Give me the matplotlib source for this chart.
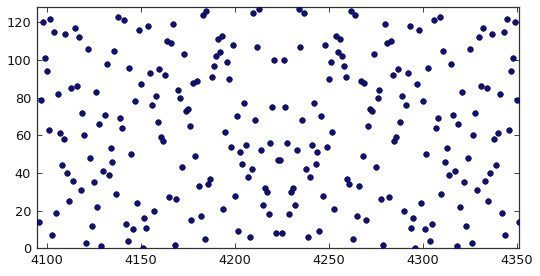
import numpy as np
import matplotlib
matplotlib.use("Agg")
import matplotlib.pyplot as plt

# x runs over consecutive integers; y
x_values = np.arange(4096, 4352)

y_values = [
    # 4096 - 4127
    14, 79, 120, 101, 94, 63, 122, 7, 115, 19, 82, 61, 44, 58, 114, 40,
    25, 85, 36, 117, 86, 112, 31, 72, 60, 3, 106, 48, 12, 35, 83, 22,
    # 4128 - 4159
    66, 1, 41, 71, 98, 39, 53, 46, 105, 29, 123, 69, 64, 121, 13, 4,
    96, 50, 10, 78, 24, 116, 87, 0, 16, 11, 118, 93, 76, 20, 81, 67,
    # 4160 - 4191
    95, 59, 57, 92, 110, 27, 109, 119, 2, 26, 84, 80, 43, 103, 73, 74,
    65, 15, 88, 49, 89, 33, 17, 124, 5, 126, 34, 37, 91, 97, 102, 111,
    # 4192 - 4223
    104, 113, 21, 62, 99, 90, 54, 108, 28, 70, 9, 51, 45, 77, 55, 38,
    6, 42, 125, 68, 107, 127, 52, 23, 32, 30, 18, 56, 75, 100, 8, 47,
    # 4224 - 4255
    47, 8, 100, 75, 56, 18, 30, 32, 23, 52, 127, 107, 68, 125, 42, 6,
    38, 55, 77, 45, 51, 9, 70, 28, 108, 54, 90, 99, 62, 21, 113, 104,
    # 4256 - 4287
    111, 102, 97, 91, 37, 34, 126, 5, 124, 17, 33, 89, 49, 88, 15, 65,
    74, 73, 103, 43, 80, 84, 26, 2, 119, 109, 27, 110, 92, 57, 59, 95,
    # 4288 - 4319
    67, 81, 20, 76, 93, 118, 11, 16, 0, 87, 116, 24, 78, 10, 50, 96,
    4, 13, 121, 64, 69, 123, 29, 105, 46, 53, 39, 98, 71, 41, 1, 66,
    # 4320 - 4351
    22, 83, 35, 12, 48, 106, 3, 60, 72, 31, 112, 86, 117, 36, 85, 25,
    40, 114, 58, 44, 61, 82, 19, 115, 7, 122, 63, 94, 101, 120, 79, 14,
]

x_ticks = [4100, 4150, 4200, 4250, 4300, 4350]
y_ticks = [0, 20, 40, 60, 80, 100, 120]

plt.rcParams['font.family'] = ['DejaVu Sans']
plt.rcParams['font.size'] = 9.3

fig = plt.figure(figsize=(5.4, 2.76), dpi=100)
ax = fig.add_axes([0.068, 0.1004, 0.8937, 0.8732])

ax.scatter(x_values, y_values, s=16, c='#10107f', edgecolors='#050530',
           linewidths=0.5, zorder=3, clip_on=True)

ax.set_xlim(4094.7, 4351.4)
ax.set_ylim(0, 128)
ax.set_xticks(x_ticks)
ax.set_yticks(y_ticks)
ax.tick_params(direction='in', top=True, right=True, length=3.5, width=0.6,
               pad=4, colors='#222222', labelcolor='#111111')
for spine in ax.spines.values():
    spine.set_color('#333333')
    spine.set_linewidth(0.9)

fig.savefig("out.png", dpi=100)
